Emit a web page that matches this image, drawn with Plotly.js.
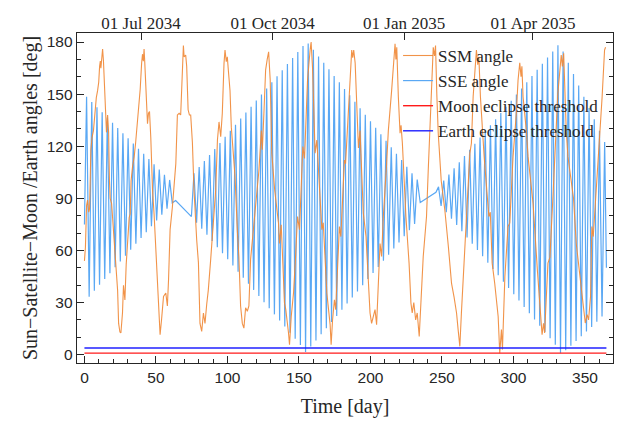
<!DOCTYPE html>
<html>
<head>
<meta charset="utf-8">
<script src="https://cdn.plot.ly/plotly-3.0.1.min.js"></script>
<style>html,body{margin:0;padding:0;background:#fff;}#chart{width:618px;height:427px;}</style>
</head>
<body>
<div id="chart"></div>
<script>
// ---- data ----
// Sun–Satellite–Moon angle [day, deg]
const ssmPoints = [
[0,54],[0.7,62],[1.5,86],[2.2,89],[3.0,82],[3.6,84],[4.5,118],[5.3,125],[6.3,129],[7.3,140],[8.3,148],[9.2,152],[10.0,157],[10.6,166],[11.1,169],[11.5,165],[12.0,171],[12.7,176],[13.3,169],[13.8,160],[14.5,139],[15.4,128],[16.2,138],[16.9,128],[17.5,100],[18.0,90],[19.0,87],[19.7,78],[21.0,60],[22.0,47],[23.2,37],[23.9,18],[24.8,13],[25.5,12.5],[26.6,24],[27.3,40],[28.3,31.5],[29.2,52],[30.6,72],[31.3,79],[32.0,81],[32.6,100],[33.6,108],[34.8,114],[35.8,122],[36.6,129],[37.8,143],[39.0,153],[40.0,168],[40.6,173],[41.2,169],[41.7,176],[42.2,168],[43.2,148],[44.1,133],[44.8,139],[45.5,140],[46.4,125],[47.6,95],[48.7,81],[49.9,62],[51.0,43],[52.2,20],[52.9,11.5],[53.9,20],[55.3,33.5],[56.9,35.5],[58.0,28],[58.8,43],[59.9,72],[61.5,85],[63.9,110],[65.0,138],[66.2,139],[67.3,138],[68.0,154],[68.7,173.5],[69.2,178],[69.7,171.5],[70.8,172.5],[71.5,166],[72.5,141],[73.4,138],[74.3,138],[75.5,122],[76.6,95],[78.5,66],[79.7,53],[80.8,18],[82.0,13.4],[83.2,24],[84.3,18],[85.5,29],[86.6,37],[88.3,55],[90.2,77.6],[91.8,95],[93.0,123.6],[94.1,134],[95.3,125.5],[96.4,139],[97.6,167.7],[98.3,175.4],[99.2,168.7],[99.9,171.5],[100.6,164],[101.8,152],[102.7,131],[103.9,118],[105.3,102.5],[106.9,72],[108.0,56.5],[109.2,28],[110.4,18],[111.5,15.3],[112.7,27],[113.9,25],[115.0,28],[116.2,55],[118.0,72],[119.7,85],[120.9,97],[122.0,106],[123.7,129],[124.4,118],[125.5,139],[126.7,164],[127.8,170],[128.8,174.4],[129.9,158],[131.0,116],[133.0,95],[135.7,75.7],[136.4,64],[137.6,74.8],[139.9,29.7],[140.8,25.9],[142.7,12.5],[143.4,5.7],[144.6,22],[146.2,35.5],[147.4,52.7],[149.0,79.5],[150.4,72],[152.7,119.8],[153.9,113],[156.0,158],[157.8,175.4],[158.5,180],[159.5,165],[161.3,116],[162.5,123.6],[164.8,91],[166.0,72],[167.0,76],[169.5,35.5],[171.8,17.3],[172.5,5.7],[173.5,20],[174.8,31.6],[175.7,25.9],[178.3,73.8],[179.3,68],[181.1,100.6],[181.8,112],[182.6,110],[184.1,133],[185.7,158],[186.9,175.4],[187.6,171],[188.3,175.4],[189.3,168],[190.4,139],[191.6,119],[192.7,129],[195.0,81.5],[196.9,68],[198.5,43],[199.7,24],[200.8,18],[203.2,26],[204.3,17.3],[205.5,37],[206.7,64],[207.8,56.5],[209.0,79.5],[211.3,110],[212.5,129],[214.8,152],[217.2,179],[217.8,170],[218.4,177],[219.5,148.5],[220.7,127.5],[221.4,132],[222.3,122],[224.8,79.5],[227.0,52.7],[228.3,29.7],[229.2,24],[230.3,30],[231.6,20],[232.7,24],[234.1,10.5],[236.9,56.5],[239.2,79.5],[240.4,106],[241.6,129],[242.7,158],[243.9,177],[244.8,172],[245.5,178],[246.4,150],[247.4,127.5],[249.5,100],[252.0,83.4],[254.5,62],[256.7,41],[258.5,33],[260.2,24],[261.3,14.4],[262.5,4.8],[263.6,24],[266.0,62],[268.3,100.6],[269.5,116],[270.6,121.7],[271.8,148.5],[274.1,175.4],[275.0,167],[275.8,171.5],[276.9,148.5],[279.5,114],[282.8,79.5],[283.8,82],[285.1,52.7],[286.9,41],[289.3,22],[290.4,0.8],[291.6,14.4],[292.3,3],[294.0,45],[296.2,73.8],[297.4,75.7],[299.7,114],[302.0,139],[303.2,158],[304.4,168],[305.3,160],[305.9,166],[306.7,148.5],[309.0,129],[310.2,114],[311.5,105],[313.7,87.2],[316.7,48.9],[319.0,18.2],[320.0,11.5],[321.0,18],[321.8,12.5],[324.1,52.7],[325.5,56],[327.6,91],[328.8,114],[331.0,150],[333.4,172.5],[334.2,166],[335.1,173.5],[336.9,129],[338.1,114],[340.9,96.8],[342.0,90],[343.9,64],[347.4,37.4],[349.3,22],[350.2,18.2],[351.5,23],[352.5,20],[353.9,33.5],[354.8,73.8],[355.8,68],[359.0,110],[360.9,129],[362.0,148.5],[363.7,175.4],[364.4,177]
];
// Sun–Satellite–Earth angle [day, deg]
const ssePoints = [
[0,75],[1.5,148.5],[3.3,33.4],[5.13,145.5],[6.93,36.8],[8.76,142.5],[10.56,40.2],[12.39,139.5],[14.19,43.5],[16.02,136.5],[17.82,46.9],[19.65,133.5],[21.45,50.3],[23.28,130.5],[25.08,53.7],[26.91,127.5],[28.71,57.0],[30.54,124.6],[32.34,60.4],[34.17,121.6],[35.97,63.8],[37.8,118.6],[39.6,67.2],[41.43,115.6],[43.23,70.5],[45.06,112.6],[46.86,73.9],[48.69,109.6],[50.49,77.3],[52.32,106.6],[54.12,80.6],[55.95,103.6],[57.75,84.0],[59.58,100.6],[61.38,87.4],[63.8,88.7],
[74.8,79.5],[76.6,104.5],[78.4,76.0],[80.23,108.0],[82.03,72.5],[83.86,111.5],[85.66,69.0],[87.49,115.0],[89.29,65.4],[91.12,118.4],[92.92,61.9],[94.75,121.9],[96.55,58.4],[98.38,125.4],[100.18,54.9],[102.01,128.9],[103.81,51.4],[105.64,132.4],[107.44,47.8],[109.27,135.9],[111.07,44.3],[112.9,139.4],[114.7,40.8],[116.53,142.8],[118.33,37.3],[120.16,146.3],[121.96,33.8],[123.79,149.8],[125.59,30.2],[127.42,153.3],[129.22,26.7],[131.05,156.8],[132.85,23.2],[134.68,160.3],[136.48,19.7],[138.31,163.8],[140.11,16.2],[141.94,167.3],[143.74,12.6],[145.57,170.8],[147.37,9.1],[149.2,174.2],[151.0,5.6],[152.83,177.7],[154.63,1.5],
[156.46,179.2],[158.26,4.7],[160.09,175.5],[161.89,8.2],[163.72,171.7],[165.52,11.7],[167.35,168.0],[169.15,15.2],[170.98,164.3],[172.78,18.8],[174.61,160.5],[176.41,22.3],[178.24,156.8],[180.04,25.8],[181.87,153.0],[183.67,29.4],[185.5,149.3],[187.3,32.9],[189.13,145.6],[190.93,36.4],[192.76,141.8],[194.56,39.9],[196.39,138.1],[198.19,43.5],[200.02,134.4],[201.82,47.0],[203.65,130.6],[205.45,50.5],[207.28,126.9],[209.08,54.1],[210.91,123.2],[212.71,57.6],[214.54,119.4],[216.34,61.1],[218.17,115.7],[219.97,64.6],[221.8,112.0],[223.6,68.2],[225.43,108.2],[227.23,71.7],[229.06,104.5],[230.86,75.2],[232.69,100.8],[234.8,87.6],
[245.8,93.5],[247.6,96.6],[249.4,85.6],[251.23,100.2],[253.03,82.0],[254.86,103.7],[256.66,78.3],[258.49,107.3],[260.29,74.7],[262.12,110.8],[263.92,71.1],[265.75,114.3],[267.55,67.5],[269.38,117.9],[271.18,63.8],[273.01,121.4],[274.81,60.2],[276.64,125.0],[278.44,56.6],[280.27,128.5],[282.07,52.9],[283.9,132.1],[285.7,49.3],[287.53,135.6],[289.33,45.7],[291.16,139.2],[292.96,42.0],[294.79,142.7],[296.59,38.4],[298.42,146.2],[300.22,34.8],[302.05,149.8],[303.85,31.2],[305.68,153.3],[307.48,27.5],[309.31,156.9],[311.11,23.9],[312.94,160.4],[314.74,20.3],[316.57,164.0],[318.37,16.6],[320.2,167.5],[322.0,13.0],[323.83,171.1],[325.63,9.4],[327.46,174.6],[329.26,5.7],[331.09,178.1],[332.89,0.8],
[334.72,174.6],[336.52,2.5],[338.35,168.1],[340.15,5.2],[341.98,161.6],[343.78,7.9],[345.61,155.0],[347.41,10.6],[349.24,148.5],[351.04,13.3],[352.87,142.0],[354.67,16.0],[356.5,135.5],[358.3,19.0],[360.13,128.9],[361.93,22.0],[363.76,122.4],[365,50]
];
const thresholdDays = [0, 365];
const moonThreshold = [0.9, 0.9];
const earthThreshold = [3.8, 3.8];
const dateTickVals = ['2034-07-01', '2034-10-01', '2035-01-01', '2035-04-01'];
const dateTickText = ['01 Jul 2034', '01 Oct 2034', '01 Jan 2035', '01 Apr 2035'];
const seriesNames = ['SSM angle', 'SSE angle', 'Moon eclipse threshold', 'Earth eclipse threshold'];

// ---- layout helpers ----
const xRange = [-5.2, 369.6];
const yRange = [-4.8, 185.2];
const day0 = Date.UTC(2034, 4, 22, 10);
function dayToDate(d) {
  return new Date(day0 + d * 86400000).toISOString().replace('T', ' ').slice(0, 19);
}

const serif = "'Liberation Serif', 'Times New Roman', serif";
const sans = "'Liberation Sans', Arial, sans-serif";
const ink = '#262626';

const traces = [
  { x: ssePoints.map(p => p[0]), y: ssePoints.map(p => p[1]), type: 'scatter', mode: 'lines',
    name: seriesNames[1], legendrank: 2, line: { color: '#5aa8f4', width: 1.2 } },
  { x: ssmPoints.map(p => p[0]), y: ssmPoints.map(p => p[1]), type: 'scatter', mode: 'lines',
    name: seriesNames[0], legendrank: 1, opacity: 0.92, line: { color: '#f08a3a', width: 1.1 } },
  { x: thresholdDays, y: moonThreshold, type: 'scatter', mode: 'lines',
    name: seriesNames[2], legendrank: 3, line: { color: '#ff1a1a', width: 1.4 } },
  { x: thresholdDays, y: earthThreshold, type: 'scatter', mode: 'lines',
    name: seriesNames[3], legendrank: 4, line: { color: '#2020ff', width: 1.4 } },
  { x: [dayToDate(xRange[0]), dayToDate(xRange[1])], y: [null, null], xaxis: 'x2', yaxis: 'y',
    type: 'scatter', mode: 'lines', showlegend: false, hoverinfo: 'skip' }
];

const layout = {
  width: 618, height: 427,
  margin: { l: 77, r: 5, t: 33, b: 64 },
  paper_bgcolor: '#ffffff', plot_bgcolor: '#ffffff',
  showlegend: true,
  legend: { x: 0.599, y: 0.985, xanchor: 'left', yanchor: 'top', bgcolor: 'rgba(0,0,0,0)',
    borderwidth: 0, font: { family: serif, size: 17, color: ink }, tracegroupgap: 0 },
  xaxis: {
    range: xRange, tickmode: 'linear', tick0: 0, dtick: 50,
    ticks: 'inside', ticklen: 7, tickwidth: 1, tickcolor: ink,
    minor: { dtick: 10, tick0: 0, ticks: 'inside', ticklen: 4, tickwidth: 1, tickcolor: ink, showgrid: false },
    showline: true, linecolor: ink, linewidth: 1.3, mirror: true,
    showgrid: false, zeroline: false,
    tickfont: { family: sans, size: 15.5, color: ink },
    title: { text: 'Time [day]', font: { family: serif, size: 20, color: ink }, standoff: 14 }
  },
  xaxis2: {
    type: 'date', overlaying: 'x', side: 'top', anchor: 'y',
    range: [dayToDate(xRange[0]), dayToDate(xRange[1])],
    tickmode: 'array', tickvals: dateTickVals, ticktext: dateTickText,
    ticks: 'inside', ticklen: 7, tickwidth: 1, tickcolor: ink,
    showline: false, showgrid: false, zeroline: false,
    tickfont: { family: serif, size: 17, color: ink }
  },
  yaxis: {
    range: yRange, tickmode: 'linear', tick0: 0, dtick: 30,
    ticks: 'inside', ticklen: 7, tickwidth: 1, tickcolor: ink,
    minor: { dtick: 10, tick0: 0, ticks: 'inside', ticklen: 4, tickwidth: 1, tickcolor: ink, showgrid: false },
    showline: true, linecolor: ink, linewidth: 1.3, mirror: 'ticks',
    showgrid: false, zeroline: false,
    tickfont: { family: sans, size: 15.5, color: ink },
    title: { text: 'Sun\u2212Satellite\u2212Moon /Earth angles [deg]', font: { family: serif, size: 20, color: ink }, standoff: 3 }
  }
};

Plotly.newPlot('chart', traces, layout, { displayModeBar: false, staticPlot: true });
</script>
</body>
</html>
